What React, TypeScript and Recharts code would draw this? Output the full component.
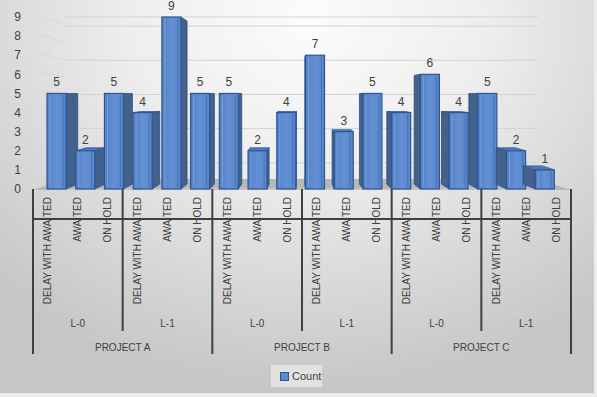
import React from 'react';
import {
  BarChart,
  Bar,
  XAxis,
  YAxis,
  CartesianGrid,
  LabelList,
} from 'recharts';

const statuses = ['DELAY WITH AWAITED', 'AWAITED', 'ON HOLD'];
const levels = ['L-0', 'L-1'];
const projects = ['PROJECT A', 'PROJECT B', 'PROJECT C'];
const counts = [5, 2, 5, 4, 9, 5, 5, 2, 4, 7, 3, 5, 4, 6, 4, 5, 2, 1];
const yTicks = [0, 1, 2, 3, 4, 5, 6, 7, 8, 9];

const data = counts.map((count, i) => ({
  key: String(i),
  status: statuses[i % 3],
  level: levels[Math.floor(i / 3) % 2],
  project: projects[Math.floor(i / 6)],
  count,
}));

const W = 594;
const H = 393;
const TOP = 17;
const AXIS_H = 204;
const AXIS_Y = H - AXIS_H; // bottom of plot area
const PLOT_LEFT = 33;
const PLOT_RIGHT = 571;
const BAND = (PLOT_RIGHT - PLOT_LEFT) / counts.length;
const FONT = '"Liberation Sans", Arial, sans-serif';
const TEXT = '#404040';
const LINE = '#404040';

// back wall geometry (fake 3d)
const WALL_LEFT = 65;
const WALL_RIGHT = 538;
const WALL_BASE = 179;
const WALL_UNIT = 17;
const FRONT_UNIT = (AXIS_Y - TOP) / 9;

// fake perspective: side faces lean toward this x
const VANISH_X = 300;
const DEPTH_K = 0.048;

const Bar3D = (props: any) => {
  const { x, y, width: w, height: h } = props;
  if (!h || h <= 0) return null;
  const cx = x + w / 2;
  const d = (VANISH_X - cx) * DEPTH_K;
  const yBackTop = y - 5 + 0.053 * h;
  const yBackBot = y + h - 5;
  const sx = d >= 0 ? x + w : x;
  return (
    <g>
      <polygon
        points={`${sx},${y} ${sx + d},${yBackTop} ${sx + d},${yBackBot} ${sx},${y + h}`}
        fill="#42618c"
        stroke="#2f4f7a"
        strokeWidth={0.8}
      />
      {yBackTop < y && (
        <polygon
          points={`${x},${y} ${x + w},${y} ${x + w + d},${yBackTop} ${x + d},${yBackTop}`}
          fill="#4f7bbd"
          stroke="#2f5597"
          strokeWidth={0.8}
        />
      )}
      <rect x={x} y={y} width={w} height={h} fill="url(#frontGrad)" stroke="#2f5597" strokeWidth={1.2} />
      <line x1={x + 3} y1={y + 2} x2={x + 3} y2={y + h - 2} stroke="#779fd8" strokeWidth={1} />
      <line x1={x + w - 3} y1={y + 2} x2={x + w - 3} y2={y + h - 2} stroke="#4773b4" strokeWidth={1} />
    </g>
  );
};

const CategoryTick = (props: any) => {
  const { x, index } = props;
  const y = AXIS_Y;
  const row = data[index];
  if (!row) return null;
  const left = x - BAND / 2;
  const right = x + BAND / 2;
  const isLast = index === data.length - 1;
  return (
    <g>
      <text
        transform={`translate(${x},${y + 8}) rotate(-90)`}
        textAnchor="end"
        dominantBaseline="central"
        fontSize={10}
        fontFamily={FONT}
        fill={TEXT}
      >
        {row.status}
      </text>
      {index % 3 === 1 && (
        <text x={x} y={y + 134} textAnchor="middle" dominantBaseline="central" fontSize={10} fontFamily={FONT} fill={TEXT}>
          {row.level}
        </text>
      )}
      {index % 6 === 3 && (
        <text x={left} y={y + 158} textAnchor="middle" dominantBaseline="central" fontSize={10} fontFamily={FONT} fill={TEXT}>
          {row.project}
        </text>
      )}
      {index % 3 === 0 && (
        <line x1={left} y1={y} x2={left} y2={index % 6 === 0 ? y + 165 : y + 142} stroke={LINE} strokeWidth={2} />
      )}
      {isLast && <line x1={right} y1={y} x2={right} y2={y + 165} stroke={LINE} strokeWidth={2} />}
    </g>
  );
};

export default function App() {
  return (
    <div style={{ position: 'relative', width: W, height: H }}>
      <style>{'body{margin:0;background:#ededed;}'}</style>
      <div
        style={{
          position: 'absolute',
          inset: 0,
          background:
            'radial-gradient(ellipse 75% 95% at 52% 5%, #fcfcfc 0%, #eeeeee 40%, #d6d6d6 75%, #c6c6c6 100%)',
        }}
      />
      <svg style={{ position: 'absolute', left: 0, top: 0 }} width={W} height={H}>
        {yTicks.map((v) => (
          <line
            key={v}
            x1={PLOT_LEFT + 8}
            y1={AXIS_Y - v * FRONT_UNIT - 2}
            x2={WALL_LEFT}
            y2={WALL_BASE - v * WALL_UNIT}
            stroke="#d8d8d8"
            strokeWidth={1}
          />
        ))}
        <polygon
          points={`${PLOT_LEFT},${AXIS_Y + 1} ${PLOT_RIGHT},${AXIS_Y + 1} ${WALL_RIGHT},${WALL_BASE} ${WALL_LEFT},${WALL_BASE}`}
          fill="#b8b8b8"
        />
      </svg>
      <div style={{ position: 'absolute', left: 0, top: 0 }}>
        <BarChart width={W} height={H} data={data} margin={{ top: TOP, right: W - PLOT_RIGHT, bottom: 0, left: 0 }}>
          <defs>
            <linearGradient id="frontGrad" x1="0" y1="0" x2="1" y2="0">
              <stop offset="0%" stopColor="#5281c6" />
              <stop offset="50%" stopColor="#6490d4" />
              <stop offset="100%" stopColor="#5886ca" />
            </linearGradient>
          </defs>
          <YAxis yAxisId="wall" hide type="number" domain={[-0.53, 9.53]} ticks={yTicks} allowDataOverflow />
          <CartesianGrid yAxisId="wall" vertical={false} stroke="#d2d2d2" x={WALL_LEFT} width={WALL_RIGHT - WALL_LEFT} />
          <XAxis xAxisId="bars" dataKey="key" hide padding={{ left: 9, right: 12 }} />
          <XAxis
            xAxisId="cat"
            dataKey="key"
            height={AXIS_H}
            interval={0}
            tickLine={false}
            tickSize={0}
            tickMargin={0}
            axisLine={{ stroke: LINE, strokeWidth: 2 }}
            tick={<CategoryTick />}
          />
          <YAxis
            width={PLOT_LEFT}
            domain={[0, 9]}
            ticks={yTicks}
            interval={0}
            axisLine={false}
            tickLine={false}
            tickSize={0}
            tickMargin={12}
            tick={{ fill: TEXT, fontSize: 12, fontFamily: FONT }}
          />
          <Bar xAxisId="bars" dataKey="count" barSize={19} shape={<Bar3D />} isAnimationActive={false}>
            <LabelList dataKey="count" position="top" offset={7} fill={TEXT} fontSize={12} fontFamily={FONT} />
          </Bar>
        </BarChart>
      </div>
      <div
        style={{
          position: 'absolute',
          left: 271,
          top: 365,
          width: 51,
          height: 22,
          background: '#e2e2e2',
          display: 'flex',
          alignItems: 'center',
          fontFamily: FONT,
          fontSize: 11,
          color: TEXT,
        }}
      >
        <span
          style={{
            display: 'inline-block',
            width: 7,
            height: 7,
            marginLeft: 9,
            marginRight: 3,
            background: '#5b89cd',
            border: '1px solid #2f5597',
          }}
        />
        Count
      </div>
    </div>
  );
}
